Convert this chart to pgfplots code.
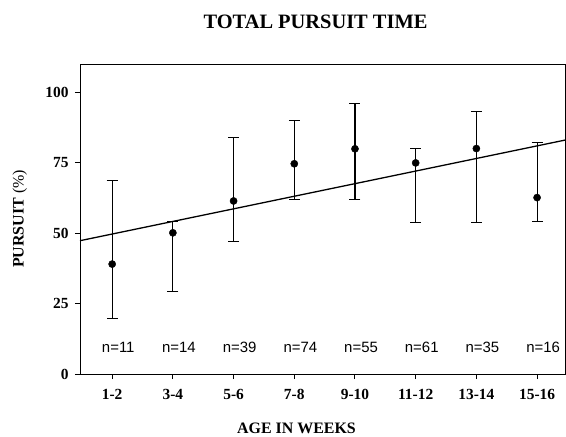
\documentclass[border=0pt]{standalone}
\usepackage{fontspec}
\setmainfont{Liberation Serif}
\newfontfamily\nfont{Liberation Sans}
\usepackage{pgfplots}
\pgfplotsset{compat=1.18}
\usepackage{pgfplotstable}

% mean, upper and lower error per age group
\pgfplotstableread{
x y ep em
1 39.0 29.6 19.4
2 50.1 3.9 20.8
3 61.4 22.4 14.3
4 74.6 15.2 12.8
5 79.9 16.1 18.1
6 74.9 5.1 21.1
7 80.0 13.0 26.2
8 62.6 19.4 8.6
}\pursuit

\pgfplotstableread{
x y lab
1.1 9.6 n=11
2.1 9.6 n=14
3.1 9.6 n=39
4.1 9.6 n=74
5.1 9.6 n=55
6.1 9.6 n=61
7.1 9.6 n=35
8.1 9.6 n=16
}\counts

\begin{document}
\begin{tikzpicture}
\begin{axis}[
  scale only axis,
  width=485bp, height=310bp,
  xmin=0.47, xmax=8.46,
  ymin=0, ymax=110,
  axis line style={line width=1pt},
  xtick={1,...,8},
  xticklabels={1-2,3-4,5-6,7-8,9-10,11-12,13-14,15-16},
  ytick={0,25,50,75,100},
  xtick pos=bottom, ytick pos=left,
  tick align=outside,
  major tick length=5bp,
  tick style={black, line width=1pt},
  /pgf/number format/assume math mode=true,
  ticklabel style={font=\bfseries\fontsize{15.5}{15.5}\selectfont},
  xticklabel style={yshift=-7bp},
  yticklabel style={xshift=-3bp},
  title={TOTAL PURSUIT TIME},
  title style={font=\bfseries\fontsize{20.5}{20.5}\selectfont, at={(0.5,1)}, anchor=center, yshift=36bp, xshift=-7bp},
  xlabel={AGE IN WEEKS},
  xlabel style={font=\bfseries\fontsize{16}{16}\selectfont, at={(0.5,0)}, anchor=center, yshift=-54bp, xshift=-26bp},
  ylabel={PURSUIT {\mdseries(\%)}},
  ylabel style={font=\bfseries\fontsize{16}{16}\selectfont, at={(axis description cs:-0.124,0.5)}, anchor=center},
]
\addplot[black, only marks, mark=*, mark size=3.6bp,
  error bars/.cd, y dir=both, y explicit,
  error bar style={line width=1.1pt},
  error mark options={rotate=90, mark size=5.5bp, line width=1.1pt}]
  table[x=x, y=y, y error plus=ep, y error minus=em] {\pursuit};
\addplot[black, line width=1.3pt] coordinates {(0.47,47.3) (8.46,83.0)};
\addplot[draw=none, mark=none, nodes near coords, point meta=explicit symbolic,
  nodes near coords style={anchor=center, font=\nfont\fontsize{15}{15}\selectfont}]
  table[x=x, y=y, meta=lab] {\counts};
\end{axis}
\path (current axis.south west) ++(-80bp,-61bp);
\path (current axis.north east) ++(1bp,64bp);
\end{tikzpicture}
\end{document}
